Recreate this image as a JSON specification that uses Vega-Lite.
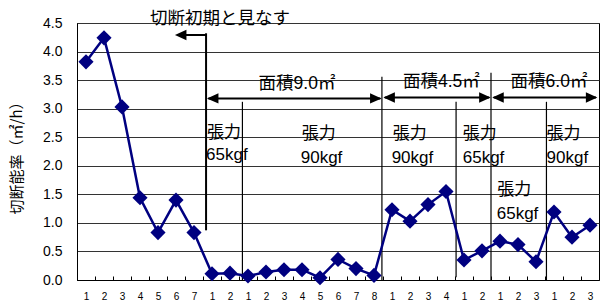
{
  "$schema": "https://vega.github.io/schema/vega-lite/v6.json",
  "width": 522,
  "height": 257,
  "autosize": {"type": "none"},
  "padding": {"left": 77, "top": 23, "right": 1, "bottom": 20},
  "background": "white",
  "config": {
    "view": {"stroke": "black", "strokeWidth": 1},
    "font": "Liberation Sans, 'Noto Sans CJK JP', sans-serif"
  },
  "datasets": {
    "rates": [
      {"pos": 0, "label": "1", "value": 3.82},
      {"pos": 1, "label": "2", "value": 4.24},
      {"pos": 2, "label": "3", "value": 3.03},
      {"pos": 3, "label": "4", "value": 1.44},
      {"pos": 4, "label": "5", "value": 0.83},
      {"pos": 5, "label": "6", "value": 1.40},
      {"pos": 6, "label": "7", "value": 0.83},
      {"pos": 7, "label": "1", "value": 0.11},
      {"pos": 8, "label": "2", "value": 0.12},
      {"pos": 9, "label": "1", "value": 0.07},
      {"pos": 10, "label": "2", "value": 0.14},
      {"pos": 11, "label": "3", "value": 0.18},
      {"pos": 12, "label": "4", "value": 0.18},
      {"pos": 13, "label": "5", "value": 0.04},
      {"pos": 14, "label": "6", "value": 0.36},
      {"pos": 15, "label": "7", "value": 0.20},
      {"pos": 16, "label": "8", "value": 0.08},
      {"pos": 17, "label": "1", "value": 1.23},
      {"pos": 18, "label": "2", "value": 1.03},
      {"pos": 19, "label": "3", "value": 1.32},
      {"pos": 20, "label": "4", "value": 1.55},
      {"pos": 21, "label": "1", "value": 0.35},
      {"pos": 22, "label": "2", "value": 0.51},
      {"pos": 23, "label": "1", "value": 0.68},
      {"pos": 24, "label": "2", "value": 0.62},
      {"pos": 25, "label": "3", "value": 0.32},
      {"pos": 26, "label": "1", "value": 1.19},
      {"pos": 27, "label": "2", "value": 0.75},
      {"pos": 28, "label": "3", "value": 0.96}
    ],
    "thickVlines": [
      {"pos": 6.67, "value": 4.32, "value2": 0.87}
    ],
    "thinVlines": [
      {"pos": 8.69, "value": 3.12, "value2": 0},
      {"pos": 16.44, "value": 3.56, "value2": 0},
      {"pos": 20.56, "value": 3.12, "value2": 0.05},
      {"pos": 22.5, "value": 3.63, "value2": 0},
      {"pos": 25.58, "value": 3.12, "value2": 0}
    ],
    "hlines": [
      {"pos": 5.2, "pos2": 6.67, "value": 4.29},
      {"pos": 6.8, "pos2": 16.35, "value": 3.18},
      {"pos": 16.6, "pos2": 22.4, "value": 3.195},
      {"pos": 22.65, "pos2": 28.33, "value": 3.195}
    ],
    "headsLeft": [
      {"pos": 4.94, "value": 4.29},
      {"pos": 6.72, "value": 3.18},
      {"pos": 16.52, "value": 3.195},
      {"pos": 22.57, "value": 3.195}
    ],
    "headsRight": [
      {"pos": 16.42, "value": 3.18},
      {"pos": 22.48, "value": 3.195},
      {"pos": 28.41, "value": 3.195}
    ],
    "centerText": [
      {"pos": 7.44, "value": 4.57, "text": "切断初期と見なす"},
      {"pos": 11.72, "value": 3.44, "text": "面積9.0㎡"},
      {"pos": 19.74, "value": 3.47, "text": "面積4.5㎡"},
      {"pos": 25.72, "value": 3.47, "text": "面積6.0㎡"}
    ],
    "leftText": [
      {"pos": 6.72, "value": 2.57, "text": "張力"},
      {"pos": 6.67, "value": 2.18, "text": "65kgf"},
      {"pos": 11.98, "value": 2.55, "text": "張力"},
      {"pos": 11.93, "value": 2.13, "text": "90kgf"},
      {"pos": 17.04, "value": 2.56, "text": "張力"},
      {"pos": 16.98, "value": 2.13, "text": "90kgf"},
      {"pos": 20.93, "value": 2.56, "text": "張力"},
      {"pos": 20.93, "value": 2.13, "text": "65kgf"},
      {"pos": 25.59, "value": 2.56, "text": "張力"},
      {"pos": 25.59, "value": 2.13, "text": "90kgf"},
      {"pos": 22.85, "value": 1.58, "text": "張力"},
      {"pos": 22.82, "value": 1.16, "text": "65kgf"}
    ]
  },
  "encoding": {
    "x": {
      "field": "pos", "type": "quantitative",
      "scale": {"domain": [-0.5, 28.5], "nice": false, "zero": false},
      "axis": {
        "title": null,
        "values": [-0.5, 0.5, 1.5, 2.5, 3.5, 4.5, 5.5, 6.5, 7.5, 8.5, 9.5, 10.5, 11.5, 12.5, 13.5, 14.5, 15.5, 16.5, 17.5, 18.5, 19.5, 20.5, 21.5, 22.5, 23.5, 24.5, 25.5, 26.5, 27.5],
        "labelExpr": "['1','2','3','4','5','6','7','1','2','1','2','3','4','5','6','7','8','1','2','3','4','1','2','1','2','3','1','2','3'][datum.value + 0.5]",
        "labelOffset": 9,
        "labelFlush": false,
        "labelOverlap": false,
        "labelFontSize": 10,
        "labelFont": "Liberation Sans",
        "labelColor": "black",
        "labelPadding": 15,
        "tickSize": -4,
        "tickColor": "black",
        "domainColor": "black",
        "domainWidth": 1,
        "grid": false
      }
    },
    "y": {
      "field": "value", "type": "quantitative",
      "scale": {"domain": [0, 4.5], "nice": false},
      "axis": {
        "title": "切断能率（㎡/h）",
        "titleFont": "'Noto Sans CJK JP', sans-serif",
        "titleFontSize": 15,
        "titleFontWeight": "normal",
        "titleColor": "black",
        "titleX": -61,
        "titleY": 131,
        "titleAlign": "center",
        "titleBaseline": "middle",
        "titleAngle": -90,
        "values": [0, 0.5, 1, 1.5, 2, 2.5, 3, 3.5, 4, 4.5],
        "format": ".1f",
        "labelFontSize": 14,
        "labelFont": "Liberation Sans",
        "labelColor": "black",
        "labelPadding": 15,
        "labelOverlap": false,
        "ticks": false,
        "domainColor": "black",
        "grid": true,
        "gridColor": "#333333",
        "gridWidth": 1
      }
    }
  },
  "layer": [
    {
      "data": {"name": "thickVlines"},
      "mark": {"type": "rule", "color": "black", "strokeWidth": 2},
      "encoding": {"y2": {"field": "value2"}}
    },
    {
      "data": {"name": "thinVlines"},
      "mark": {"type": "rule", "color": "black", "strokeWidth": 1.2},
      "encoding": {"y2": {"field": "value2"}}
    },
    {
      "data": {"name": "hlines"},
      "mark": {"type": "rule", "color": "black", "strokeWidth": 2},
      "encoding": {"x2": {"field": "pos2"}}
    },
    {
      "data": {"name": "headsLeft"},
      "mark": {"type": "point", "shape": "M0,0L2,-0.9L2,0.9Z", "filled": true, "color": "black", "opacity": 1, "size": 132},
      "encoding": {}
    },
    {
      "data": {"name": "headsRight"},
      "mark": {"type": "point", "shape": "M0,0L-2,-0.9L-2,0.9Z", "filled": true, "color": "black", "opacity": 1, "size": 132},
      "encoding": {}
    },
    {
      "data": {"name": "centerText"},
      "mark": {"type": "text", "align": "center", "baseline": "middle", "fontSize": 17.5, "color": "black", "font": "Liberation Sans, 'Noto Sans CJK JP', sans-serif"},
      "encoding": {"text": {"field": "text"}}
    },
    {
      "data": {"name": "leftText"},
      "mark": {"type": "text", "align": "left", "baseline": "middle", "fontSize": 17, "color": "black", "font": "Liberation Sans, 'Noto Sans CJK JP', sans-serif"},
      "encoding": {"text": {"field": "text"}}
    },
    {
      "data": {"name": "rates"},
      "mark": {"type": "line", "color": "#000080", "strokeWidth": 2.5},
      "encoding": {}
    },
    {
      "data": {"name": "rates"},
      "mark": {"type": "point", "shape": "diamond", "filled": true, "color": "#000080", "opacity": 1, "size": 230},
      "encoding": {}
    }
  ]
}
